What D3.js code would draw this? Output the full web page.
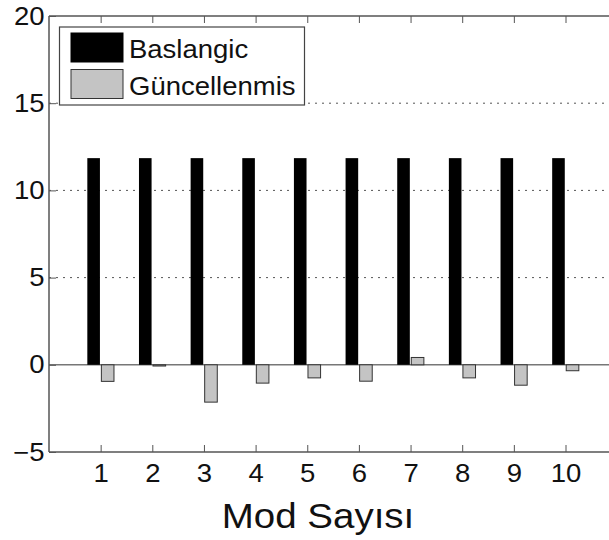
<!DOCTYPE html>
<html>
<head>
<meta charset="utf-8">
<script src="https://cdn.jsdelivr.net/npm/d3@7"></script>
<style>
  body { margin: 0; background: #fff; }
  text { font-family: "Liberation Sans", Arial, sans-serif; fill: #111; }
</style>
</head>
<body>
<div id="chart"></div>
<script>
const modes = [1, 2, 3, 4, 5, 6, 7, 8, 9, 10];
const baslangic = [11.85, 11.85, 11.85, 11.85, 11.85, 11.85, 11.85, 11.85, 11.85, 11.85];
const guncellenmis = [-0.95, -0.07, -2.14, -1.05, -0.75, -0.94, 0.42, -0.75, -1.17, -0.34];
const yTicks = [-5, 0, 5, 10, 15, 20];
const gridTicks = [5, 10, 15];
const seriesNames = ["Baslangic", "Güncellenmis"];

const width = 609, height = 540;
const plotLeft = 49, plotTop = 16, plotBottom = 452;
const stretch = 1.1; // the source picture is slightly wider than tall

const svg = d3.select("#chart").append("svg")
    .attr("width", width)
    .attr("height", height);

// Scales
const x = d3.scaleLinear().domain([0, 11]).range([plotLeft, plotLeft + 11 * 51.65]);
const y = d3.scaleLinear().domain([-5, 20]).range([plotBottom, plotTop]);
const barW = x(0.244) - x(0);
const gap = x(0.014) - x(0);

// Grid lines (dotted)
svg.append("g")
    .selectAll("line")
    .data(gridTicks)
    .join("line")
    .attr("x1", plotLeft).attr("x2", width)
    .attr("y1", d => y(d)).attr("y2", d => y(d))
    .attr("stroke", "#555")
    .attr("stroke-width", 1)
    .attr("stroke-dasharray", "2,5");

// Zero line
svg.append("line")
    .attr("x1", plotLeft).attr("x2", width)
    .attr("y1", y(0)).attr("y2", y(0))
    .attr("stroke", "#777")
    .attr("stroke-width", 1.5);

// Baslangic bars
svg.append("g")
    .selectAll("rect")
    .data(modes)
    .join("rect")
    .attr("x", d => x(d) - gap - barW)
    .attr("width", barW)
    .attr("y", (d, i) => y(Math.max(0, baslangic[i])))
    .attr("height", (d, i) => Math.abs(y(baslangic[i]) - y(0)))
    .attr("fill", "#000");

// Guncellenmis bars
svg.append("g")
    .selectAll("rect")
    .data(modes)
    .join("rect")
    .attr("x", d => x(d) + gap)
    .attr("width", barW)
    .attr("y", (d, i) => y(Math.max(0, guncellenmis[i])))
    .attr("height", (d, i) => Math.abs(y(guncellenmis[i]) - y(0)))
    .attr("fill", "#c4c4c4")
    .attr("stroke", "#333")
    .attr("stroke-width", 1);

// Axes: bottom and top with inward ticks
const xAxis = d3.axisBottom(x).tickValues(modes).tickSize(-7).tickPadding(12).tickFormat(d3.format("d"));
const gx = svg.append("g")
    .attr("transform", `translate(0,${plotBottom})`)
    .call(xAxis);
gx.select(".domain").attr("d", `M${plotLeft},0H${width}`);

const gxTop = svg.append("g")
    .attr("transform", `translate(0,${plotTop})`)
    .call(d3.axisTop(x).tickValues(modes).tickSize(-7).tickFormat(""));
gxTop.select(".domain").attr("d", `M${plotLeft},0H${width}`);

const gy = svg.append("g")
    .attr("transform", `translate(${plotLeft},0)`)
    .call(d3.axisLeft(y).tickValues(yTicks).tickSize(-7).tickPadding(4).tickFormat(d => d < 0 ? "\u2212" + Math.abs(d) : d));
gy.select(".domain").attr("d", `M0,${plotBottom}V${plotTop}`);

[gx, gxTop, gy].forEach(g => {
    g.selectAll(".domain").attr("stroke", "#555").attr("stroke-width", 1.5);
    g.selectAll(".tick line").attr("stroke", "#555");
    g.selectAll("text")
        .attr("font-size", 25)
        .attr("font-family", "'Liberation Sans', Arial, sans-serif")
        .attr("fill", "#111")
        .attr("transform", `scale(${stretch},1)`);
});

// Axis title
svg.append("g")
    .attr("transform", `translate(318,528) scale(${stretch},1)`)
    .append("text")
    .attr("text-anchor", "middle")
    .attr("font-size", 35)
    .text("Mod Sayısı");

// Legend
const legend = svg.append("g");
legend.append("rect")
    .attr("x", 59.5).attr("y", 27)
    .attr("width", 245).attr("height", 78)
    .attr("fill", "#fff")
    .attr("stroke", "#444")
    .attr("stroke-width", 1.2);

const swatches = [
    { fill: "#000", stroke: "#000" },
    { fill: "#c4c4c4", stroke: "#333" }
];
seriesNames.forEach((name, i) => {
    const yPos = 33 + i * 36.5;
    legend.append("rect")
        .attr("x", 71).attr("y", yPos)
        .attr("width", 52).attr("height", 29)
        .attr("fill", swatches[i].fill)
        .attr("stroke", swatches[i].stroke)
        .attr("stroke-width", 1);
    legend.append("g")
        .attr("transform", `translate(129,${yPos + 25}) scale(${stretch},1)`)
        .append("text")
        .attr("font-size", 25)
        .text(name);
});
</script>
</body>
</html>
